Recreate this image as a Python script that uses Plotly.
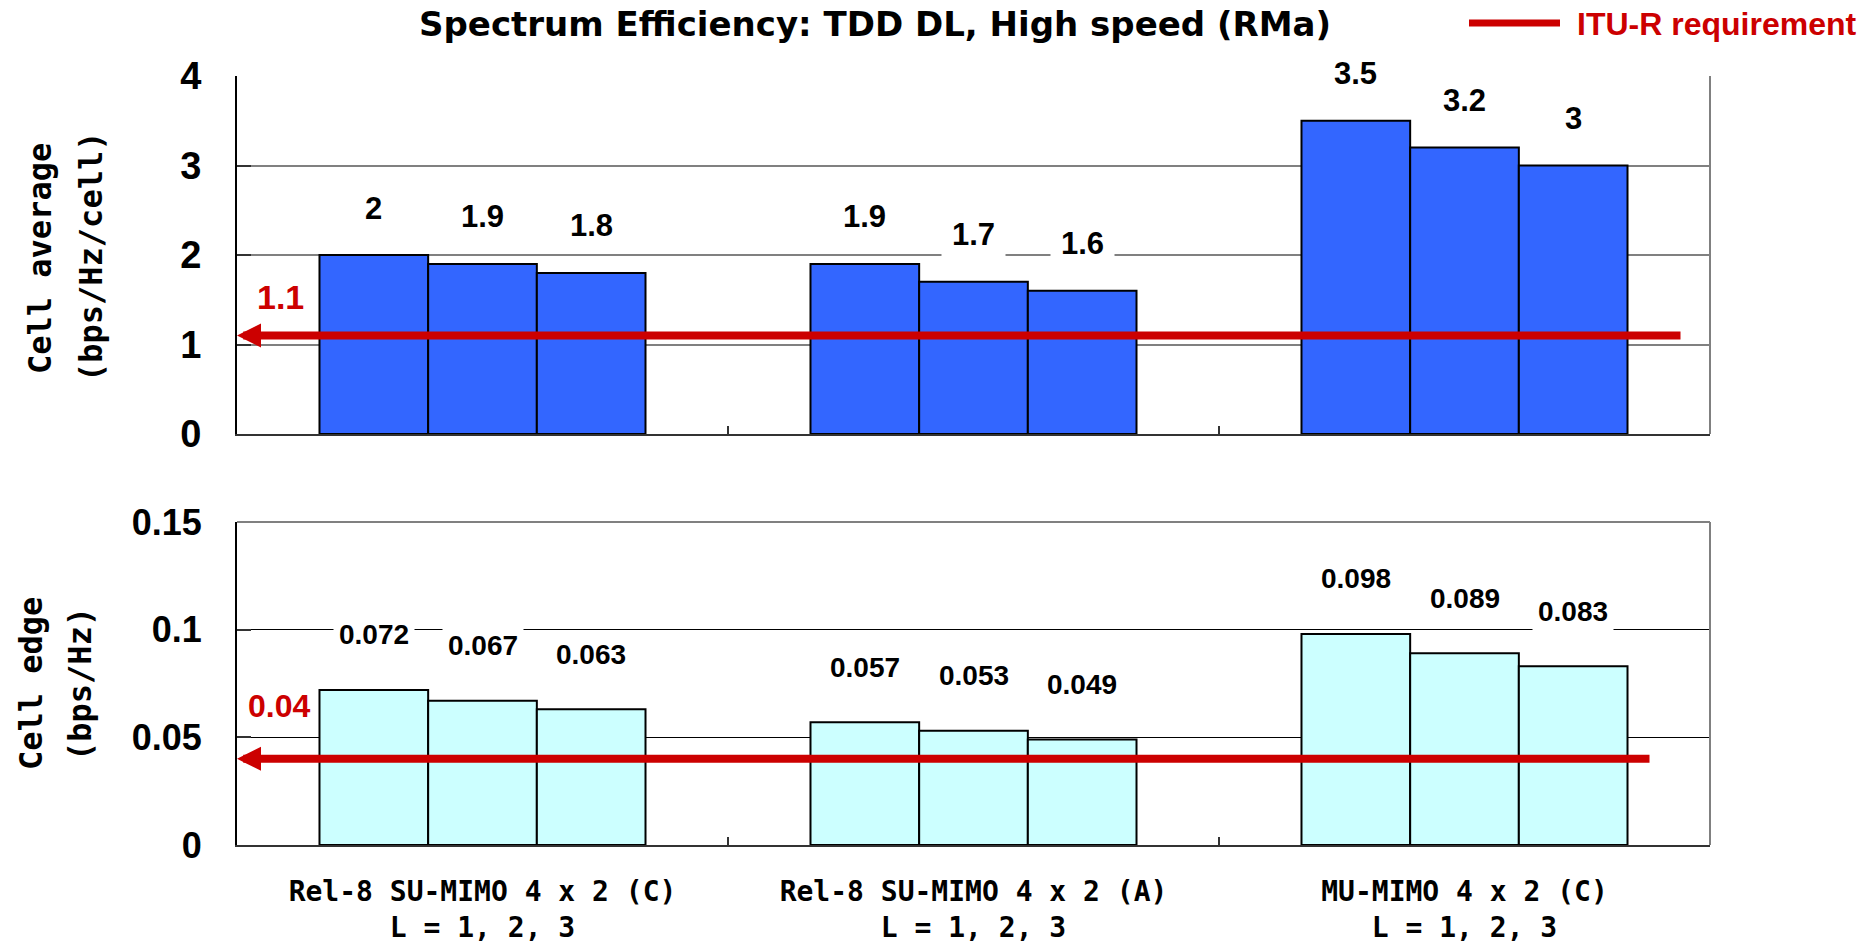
import plotly.graph_objects as go

# ---- data ----------------------------------------------------------------
categories = [
    "Rel-8 SU-MIMO 4 x 2 (C)<br>L = 1, 2, 3",
    "Rel-8 SU-MIMO 4 x 2 (A)<br>L = 1, 2, 3",
    "MU-MIMO 4 x 2 (C)<br>L = 1, 2, 3",
]
layer_names = ["L = 1", "L = 2", "L = 3"]

avg_L1 = [2, 1.9, 3.5]
avg_L2 = [1.9, 1.7, 3.2]
avg_L3 = [1.8, 1.6, 3]

edge_L1 = [0.072, 0.057, 0.098]
edge_L2 = [0.067, 0.053, 0.089]
edge_L3 = [0.063, 0.049, 0.083]

req_avg = 1.1
req_edge = 0.04

avg_ticks = [0, 1, 2, 3, 4]
avg_ticktext = ["0", "1", "2", "3", "4"]
edge_ticks = [0, 0.05, 0.1, 0.15]
edge_ticktext = ["0", "0.05", "0.1", "0.15"]

title_text = "Spectrum Efficiency: TDD DL, High speed (RMa)"
legend_text = "ITU-R requirement"

# ---- page geometry (pixels) ---------------------------------------------
W, H = 1872, 943
ML, MR, MT, MB = 237, 162, 76, 98
PW = W - ML - MR
PH = H - MT - MB
top_dom = [(H - MB - 434) / PH, 1.0]
bot_dom = [0.0, (H - MB - 522) / PH]
BARGAP = 0.336
bar_px = PW / len(categories) * (1 - BARGAP) / 3


def px_x(px):
    return (px - ML) / PW


def px_y(py):
    return (H - MB - py) / PH


BLUE = "#3366FF"
CYAN = "#CCFFFF"
RED = "#CC0000"
SANS = "Arial, Liberation Sans, sans-serif"
MONO = "DejaVu Sans Mono, Liberation Mono, monospace"

fig = go.Figure()

for name, vals in zip(layer_names, [avg_L1, avg_L2, avg_L3]):
    fig.add_trace(go.Bar(
        x=categories, y=vals, name=name, xaxis="x", yaxis="y",
        marker=dict(color=BLUE, line=dict(color="black", width=2)),
        showlegend=False, hoverinfo="skip",
    ))

for name, vals in zip(layer_names, [edge_L1, edge_L2, edge_L3]):
    fig.add_trace(go.Bar(
        x=categories, y=vals, name=name, xaxis="x2", yaxis="y2",
        marker=dict(color=CYAN, line=dict(color="black", width=2)),
        showlegend=False, hoverinfo="skip",
    ))

annotations = []

# value labels above each bar (white boxes break the gridlines)
for i, vals in enumerate([avg_L1, avg_L2, avg_L3]):
    for cat, v in zip(categories, vals):
        annotations.append(dict(
            xref="x", yref="y", x=cat, y=v, text=f"{v:g}",
            xshift=(i - 1) * bar_px, yshift=47, showarrow=False,
            yanchor="middle", bgcolor="white", borderpad=10,
            font=dict(family=SANS, size=31, color="black", weight="bold"),
        ))
for i, vals in enumerate([edge_L1, edge_L2, edge_L3]):
    for cat, v in zip(categories, vals):
        annotations.append(dict(
            xref="x2", yref="y2", x=cat, y=v, text=f"{v:g}",
            xshift=(i - 1) * bar_px, yshift=55, showarrow=False,
            yanchor="middle", bgcolor="white", borderpad=5,
            font=dict(family=SANS, size=28, color="black", weight="bold"),
        ))

# requirement arrows pointing at the value axis
annotations.append(dict(
    xref="paper", x=0, yref="y", y=req_avg, text="", showarrow=True,
    axref="pixel", ayref="pixel", ax=1682 - ML, ay=0,
    arrowhead=2, arrowsize=0.6, arrowwidth=8, arrowcolor=RED, standoff=0,
))
annotations.append(dict(
    xref="paper", x=0, yref="y2", y=req_edge, text="", showarrow=True,
    axref="pixel", ayref="pixel", ax=1651 - ML, ay=0,
    arrowhead=2, arrowsize=0.6, arrowwidth=8, arrowcolor=RED, standoff=0,
))
annotations.append(dict(
    xref="paper", x=0, xshift=43, yref="y", y=req_avg, yshift=39,
    text=f"{req_avg:g}", showarrow=False, xanchor="center", yanchor="middle",
    font=dict(family=SANS, size=34, color=RED, weight="bold"),
))
annotations.append(dict(
    xref="paper", x=0, xshift=42, yref="y2", y=req_edge, yshift=53,
    text=f"{req_edge:g}", showarrow=False, xanchor="center", yanchor="middle",
    font=dict(family=SANS, size=32, color=RED, weight="bold"),
))

# rotated two-line axis titles
for txt, cx, cy in [
    ("Cell average", 40, 259), ("(bps/Hz/cell)", 91, 257),
    ("Cell edge", 31, 684), ("(bps/Hz)", 80, 684),
]:
    annotations.append(dict(
        xref="paper", yref="paper", x=px_x(cx), y=px_y(cy), text=txt,
        textangle=-90, showarrow=False, xanchor="center", yanchor="middle",
        font=dict(family=MONO, size=32, color="black", weight="bold"),
    ))

# title along the top edge
annotations.append(dict(
    xref="paper", yref="paper", x=px_x(875), y=px_y(24), text=title_text,
    showarrow=False, xanchor="center", yanchor="middle",
    font=dict(family="DejaVu Sans, sans-serif", size=34, color="black", weight="bold"),
))

# legend entry
annotations.append(dict(
    xref="paper", yref="paper", x=px_x(1575), y=px_y(24), text=legend_text,
    showarrow=False, xanchor="left", yanchor="middle",
    font=dict(family=SANS, size=32, color=RED, weight="bold"),
))

shapes = [
    dict(type="line", xref="paper", yref="paper",
         x0=px_x(1469), x1=px_x(1560), y0=px_y(23), y1=px_y(23),
         line=dict(color=RED, width=7)),
    # right and top frame edges of both panels
    dict(type="line", xref="paper", yref="paper", x0=1, x1=1,
         y0=top_dom[0], y1=top_dom[1], line=dict(color="#808080", width=2)),
    dict(type="line", xref="paper", yref="paper", x0=1, x1=1,
         y0=bot_dom[0], y1=bot_dom[1], line=dict(color="#808080", width=2)),
    dict(type="line", xref="paper", yref="paper", x0=0, x1=1,
         y0=bot_dom[1], y1=bot_dom[1], line=dict(color="#808080", width=2)),
]

xaxis_common = dict(
    type="category", categoryorder="array", categoryarray=categories,
    showline=True, linecolor="#333333", linewidth=2,
    ticks="inside", tickson="boundaries", ticklen=8, tickcolor="#333333",
    tickwidth=1.5, showgrid=False, zeroline=False, fixedrange=True,
)

fig.update_layout(
    width=W, height=H,
    margin=dict(l=ML, r=MR, t=MT, b=MB, autoexpand=False),
    paper_bgcolor="white", plot_bgcolor="white",
    barmode="group", bargap=BARGAP, bargroupgap=0,
    showlegend=False,
    xaxis=dict(anchor="y", domain=[0, 1], showticklabels=False, **xaxis_common),
    xaxis2=dict(anchor="y2", domain=[0, 1], showticklabels=True,
                tickfont=dict(family=MONO, size=28, color="black", weight="bold"),
                ticklabelstandoff=20, **xaxis_common),
    yaxis=dict(
        anchor="x", domain=top_dom, range=[0, 4],
        tickvals=avg_ticks, ticktext=avg_ticktext,
        showline=True, linecolor="black", linewidth=2,
        ticks="inside", ticklen=14, tickcolor="#333333", tickwidth=2,
        showgrid=True, gridcolor="#808080", gridwidth=2, zeroline=False,
        tickfont=dict(family=SANS, size=38, color="black", weight="bold"),
        ticklabelstandoff=26, fixedrange=True,
    ),
    yaxis2=dict(
        anchor="x2", domain=bot_dom, range=[0, 0.15],
        tickvals=edge_ticks, ticktext=edge_ticktext,
        showline=True, linecolor="black", linewidth=2,
        ticks="inside", ticklen=14, tickcolor="#333333", tickwidth=2,
        showgrid=True, gridcolor="#000000", gridwidth=1.2, zeroline=False,
        tickfont=dict(family=SANS, size=36, color="black", weight="bold"),
        ticklabelstandoff=26, fixedrange=True,
    ),
    annotations=annotations,
    shapes=shapes,
)

fig.write_html("out.html")
